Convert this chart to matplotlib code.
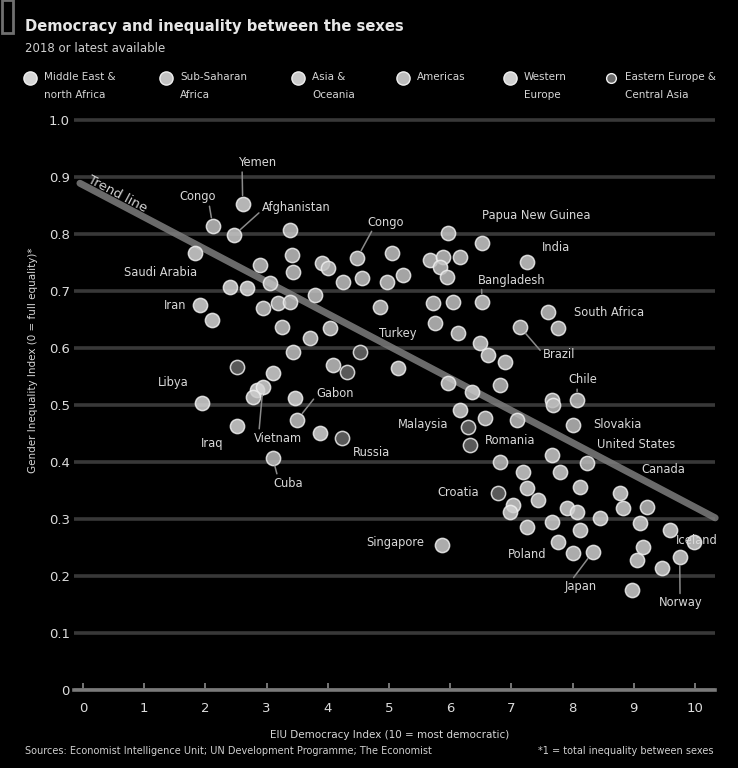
import matplotlib
matplotlib.use("Agg")
import matplotlib.pyplot as plt
from matplotlib.lines import Line2D
from matplotlib.patches import Rectangle
import numpy as np

plt.rcParams['font.family'] = ['DejaVu Sans']

# ---------------- data ----------------
region_names = ["Middle East &\nnorth Africa", "Sub-Saharan\nAfrica", "Asia &\nOceania",
                "Americas", "Western\nEurope", "Eastern Europe &\nCentral Asia"]
region_colors = ["#d6d6d6", "#c2c2c2", "#cbcbcb", "#bcbcbc", "#d0d0d0", "#6a6a6a"]

mena_x = [2.61, 1.83, 1.91, 2.11, 2.52, 1.94, 2.40, 2.68, 2.84, 3.46, 3.87, 2.94, 3.10]
mena_y = [0.853, 0.767, 0.675, 0.649, 0.463, 0.504, 0.707, 0.705, 0.526, 0.512, 0.451, 0.532, 0.556]

ssa_x = [2.12, 3.38, 3.42, 2.89, 3.43, 3.91, 4.00, 4.48, 4.56, 4.25, 4.97, 5.23, 5.05, 5.67,
         5.88, 5.83, 6.16, 5.95, 5.96, 3.06, 3.79, 2.94, 3.19, 3.38, 4.85, 5.72, 6.05, 3.25,
         4.04, 3.71, 5.75, 6.13, 7.60, 7.76, 3.43, 4.08, 3.50]
ssa_y = [0.814, 0.807, 0.763, 0.746, 0.733, 0.749, 0.740, 0.758, 0.723, 0.716, 0.716, 0.728,
         0.767, 0.754, 0.760, 0.742, 0.760, 0.725, 0.802, 0.714, 0.693, 0.670, 0.679, 0.681,
         0.672, 0.679, 0.681, 0.637, 0.635, 0.618, 0.644, 0.626, 0.663, 0.635, 0.593, 0.570,
         0.474]

asia_x = [2.47, 6.52, 7.25, 6.52, 6.49, 6.62, 6.90, 5.15, 5.96, 2.78, 6.16, 5.87, 8.01, 7.66, 6.36]
asia_y = [0.798, 0.784, 0.751, 0.681, 0.609, 0.588, 0.575, 0.565, 0.539, 0.514, 0.491, 0.254,
          0.240, 0.412, 0.523]

amer_x = [7.14, 8.07, 3.10, 6.81, 7.66, 6.57, 7.09, 8.24, 9.22, 6.81, 8.01, 7.68]
amer_y = [0.637, 0.509, 0.407, 0.535, 0.509, 0.477, 0.474, 0.398, 0.321, 0.400, 0.465, 0.500]

weur_x = [7.19, 7.79, 7.25, 7.43, 7.03, 6.98, 7.25, 7.66, 7.91, 8.07, 8.12, 8.12, 7.76, 8.33,
          8.45, 8.77, 8.82, 9.10, 9.05, 9.15, 9.59, 9.98, 9.75, 9.46, 8.97]
weur_y = [0.382, 0.382, 0.354, 0.333, 0.325, 0.312, 0.286, 0.295, 0.319, 0.312, 0.281, 0.356,
          0.260, 0.242, 0.302, 0.346, 0.319, 0.293, 0.228, 0.251, 0.281, 0.260, 0.233, 0.214,
          0.175]

eeur_x = [2.52, 4.31, 4.53, 4.23, 6.29, 6.32, 6.78]
eeur_y = [0.567, 0.558, 0.593, 0.442, 0.461, 0.430, 0.346]

trend_x = [-0.05, 10.33]
trend_y = [0.889, 0.302]

# label text, label position, point it refers to (None = no leader), alignment, leader start
labels = [
    ("Yemen", 2.55, 0.925, (2.61, 0.853), "left", (0.08, 0.0)),
    ("Congo", 1.88, 0.865, (2.12, 0.814), "center", (0.8, 0.0)),
    ("Afghanistan", 2.92, 0.846, (2.47, 0.798), "left", (0.0, 0.3)),
    ("Saudi Arabia", 1.27, 0.732, None, "center", None),
    ("Iran", 1.50, 0.675, None, "center", None),
    ("Congo", 4.95, 0.821, (4.48, 0.758), "center", (0.15, 0.0)),
    ("Papua New Guinea", 7.40, 0.833, None, "center", None),
    ("India", 7.73, 0.777, None, "center", None),
    ("Bangladesh", 7.01, 0.719, (6.52, 0.681), "center", (0.05, 0.0)),
    ("South Africa", 8.59, 0.663, None, "center", None),
    ("Turkey", 5.15, 0.626, None, "center", None),
    ("Brazil", 7.78, 0.588, (7.14, 0.637), "center", (0.0, 0.6)),
    ("Chile", 8.17, 0.544, (8.07, 0.509), "center", (0.3, 0.0)),
    ("Libya", 1.47, 0.539, None, "center", None),
    ("Iraq", 2.11, 0.433, None, "center", None),
    ("Vietnam", 3.19, 0.442, (2.94, 0.532), "center", (0.1, 1.0)),
    ("Cuba", 3.35, 0.363, (3.10, 0.407), "center", (0.15, 1.0)),
    ("Gabon", 4.12, 0.521, (3.50, 0.474), "center", (0.0, 0.3)),
    ("Russia", 4.72, 0.416, None, "center", None),
    ("Malaysia", 5.56, 0.465, None, "center", None),
    ("Romania", 6.98, 0.437, None, "center", None),
    ("Croatia", 6.13, 0.346, None, "center", None),
    ("Singapore", 5.11, 0.258, None, "center", None),
    ("Slovakia", 8.74, 0.465, None, "center", None),
    ("United States", 9.04, 0.430, None, "center", None),
    ("Canada", 9.48, 0.386, None, "center", None),
    ("Poland", 7.25, 0.237, None, "center", None),
    ("Japan", 8.14, 0.181, (8.33, 0.242), "center", (0.2, 1.0)),
    ("Norway", 9.77, 0.153, (9.75, 0.233), "center", (0.48, 1.0)),
    ("Iceland", 10.03, 0.263, None, "center", None),
]

x_ticks = [0, 1, 2, 3, 4, 5, 6, 7, 8, 9, 10]
y_ticks = [0, 0.1, 0.2, 0.3, 0.4, 0.5, 0.6, 0.7, 0.8, 0.9, 1.0]
y_tick_labels = ["0", "0.1", "0.2", "0.3", "0.4", "0.5", "0.6", "0.7", "0.8", "0.9", "1.0"]

title = "Democracy and inequality between the sexes"
subtitle = "2018 or latest available"
x_label = "EIU Democracy Index (10 = most democratic)"
y_label = "Gender Inequality Index (0 = full equality)*"
source = "Sources: Economist Intelligence Unit; UN Development Programme; The Economist"
footnote = "*1 = total inequality between sexes"

# ---------------- figure ----------------
W, H = 738, 768
fig = plt.figure(figsize=(W / 100, H / 100), dpi=100, facecolor="black")

ax_left, ax_right = 74 / W, 715 / W
ax_bottom = (H - 690) / H
ax_top = (H - 108.6) / H
ax = fig.add_axes([ax_left, ax_bottom, ax_right - ax_left, ax_top - ax_bottom])
ax.set_facecolor("black")
ax.set_xlim(-0.147, 10.327)
ax.set_ylim(0, 1.02)

for s in ax.spines.values():
    s.set_visible(False)

ax.set_yticks(y_ticks)
ax.set_yticklabels(y_tick_labels)
ax.set_xticks(x_ticks)
ax.yaxis.grid(True, color="#383838", lw=2.6, zorder=0)
ax.set_axisbelow(True)
ax.tick_params(axis="y", length=0, pad=3, labelsize=9.5, labelcolor="#dcdcdc")
ax.tick_params(axis="x", direction="in", length=5, width=1.2, color="#8a8a8a",
               pad=9, labelsize=9.5, labelcolor="#dcdcdc")
ax.axhline(0, color="#7a7a7a", lw=2.6, zorder=1, clip_on=False)

# trend band
ax.plot(trend_x, trend_y, color="#7e7e7e", lw=5.0, alpha=0.85, zorder=2,
        solid_capstyle="round", clip_on=False)
slope = (trend_y[1] - trend_y[0]) / (trend_x[1] - trend_x[0])
ang = np.degrees(np.arctan(slope))
tx = 0.05
ty = trend_y[0] + slope * (tx - trend_x[0]) + 0.003
ax.text(tx, ty, "Trend line", rotation=ang, transform_rotates_text=True,
        rotation_mode="anchor", ha="left", va="bottom", fontsize=9.5,
        color="#d0d0d0", zorder=3)

series = [(mena_x, mena_y), (ssa_x, ssa_y), (asia_x, asia_y),
          (amer_x, amer_y), (weur_x, weur_y), (eeur_x, eeur_y)]
for (xs, ys), col in zip(series, region_colors):
    ax.scatter(xs, ys, s=105, facecolor=col, edgecolor="#f0f0f0", linewidth=1.1,
               alpha=0.85, zorder=4, clip_on=False)

for txt, lx, ly, pt, ha, rel in labels:
    if pt is None:
        ax.text(lx, ly, txt, ha=ha, va="center", fontsize=8.3, color="#d8d8d8", zorder=5,
                clip_on=False)
    else:
        ax.annotate(txt, xy=pt, xytext=(lx, ly), ha=ha, va="center", fontsize=8.3,
                    color="#d8d8d8", zorder=5, annotation_clip=False,
                    arrowprops=dict(arrowstyle="-", color="#8a8a8a", lw=1.1,
                                    relpos=rel, shrinkA=0, shrinkB=6))

# ---------------- texts ----------------
fig.text(25 / W, 1 - 27 / H, title, ha="left", va="center", fontsize=10.6,
         fontweight="bold", color="#e6e6e6")
fig.text(25 / W, 1 - 48 / H, subtitle, ha="left", va="center", fontsize=8.5, color="#d0d0d0")
fig.add_artist(Rectangle((2 / W, 1 - 33 / H), 11 / W, 33 / H, transform=fig.transFigure,
                         facecolor="none", edgecolor="#707070", lw=2))

legend_mx = [30, 166, 298, 403, 510, 611]
for i, (name, col) in enumerate(zip(region_names, region_colors)):
    mx = legend_mx[i]
    ms = 9.5 if i < 5 else 7
    fig.add_artist(Line2D([mx / W], [1 - 78 / H], marker="o", markersize=ms,
                          markerfacecolor=col, markeredgecolor="#f0f0f0",
                          markeredgewidth=1.0, transform=fig.transFigure, linestyle="none"))
    lines = name.split("\n")
    for j, ln in enumerate(lines):
        fig.text((mx + 14) / W, 1 - (77 + 18 * j) / H, ln, ha="left", va="center",
                 fontsize=7.5, color="#d6d6d6")

fig.text(390 / W, 1 - 735 / H, x_label, ha="center", va="center", fontsize=7.5,
         color="#d6d6d6")
fig.text(33 / W, 1 - 360 / H, y_label, ha="center", va="center", rotation=90,
         fontsize=7.5, color="#d6d6d6")
fig.text(25 / W, 1 - 751 / H, source, ha="left", va="center", fontsize=7, color="#d0d0d0")
fig.text(713 / W, 1 - 751 / H, footnote, ha="right", va="center", fontsize=7, color="#d0d0d0")

fig.savefig("out.png", dpi=100, facecolor="black")
